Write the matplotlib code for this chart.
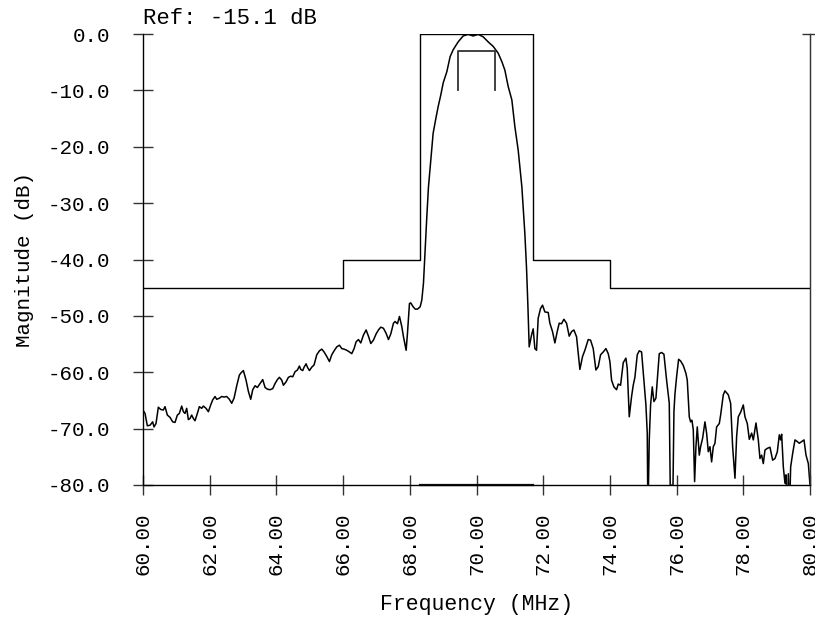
import numpy as np
import matplotlib
matplotlib.use('Agg')
import matplotlib.pyplot as plt

plt.rcParams['font.family'] = ['Liberation Mono', 'DejaVu Sans Mono']

freq = [
    60.00, 60.06, 60.13, 60.21, 60.29, 60.33, 60.39, 60.46, 60.53, 60.61,
    60.66, 60.73, 60.81, 60.89, 60.96, 61.03, 61.09, 61.16, 61.21, 61.26,
    61.31, 61.36, 61.41, 61.46, 61.51, 61.56, 61.63, 61.69, 61.76, 61.81,
    61.89, 61.96, 62.03, 62.09, 62.16, 62.21, 62.29, 62.36, 62.43, 62.51,
    62.59, 62.66, 62.73, 62.81, 62.89, 62.94, 63.01, 63.09, 63.16, 63.23,
    63.29, 63.36, 63.43, 63.51, 63.59, 63.66, 63.73, 63.81, 63.89, 63.96,
    64.03, 64.09, 64.16, 64.21, 64.29, 64.36, 64.43, 64.49, 64.56, 64.63,
    64.69, 64.73, 64.79, 64.83, 64.89, 64.93, 64.99, 65.06, 65.13, 65.21,
    65.29, 65.36, 65.43, 65.51, 65.59, 65.66, 65.73, 65.81, 65.89, 65.96,
    66.03, 66.11, 66.19, 66.26, 66.33, 66.39, 66.46, 66.53, 66.61, 66.69,
    66.76, 66.83, 66.91, 66.99, 67.06, 67.13, 67.21, 67.29, 67.36, 67.43,
    67.51, 67.56, 67.63, 67.69, 67.76, 67.81, 67.86, 67.89, 67.93, 67.99,
    68.03, 68.09, 68.16, 68.23, 68.31, 68.36, 68.41, 68.46, 68.51, 68.56,
    68.63, 68.70, 68.79, 68.85, 68.93, 69.00, 69.11, 69.21, 69.30, 69.45,
    69.60, 69.75, 69.90, 70.05, 70.20, 70.35, 70.50, 70.65, 70.76, 70.85,
    70.95, 71.06, 71.15, 71.25, 71.36, 71.45, 71.50, 71.54, 71.58, 71.65,
    71.70, 71.75, 71.80, 71.85, 71.92, 71.98, 72.05, 72.15, 72.20, 72.28,
    72.35, 72.42, 72.48, 72.55, 72.62, 72.70, 72.78, 72.85, 72.92, 73.00,
    73.10, 73.18, 73.25, 73.35, 73.42, 73.50, 73.58, 73.65, 73.72, 73.80,
    73.88, 73.95, 74.00, 74.05, 74.12, 74.20, 74.25, 74.32, 74.40, 74.48,
    74.52, 74.58, 74.65, 74.70, 74.75, 74.82, 74.88, 74.95, 75.02, 75.08,
    75.12, 75.14, 75.18, 75.22, 75.27, 75.32, 75.38, 75.42, 75.48, 75.55,
    75.62, 75.70, 75.78, 75.82, 75.85, 75.88, 75.92, 75.95, 76.00, 76.06,
    76.12, 76.20, 76.28, 76.32, 76.38, 76.42, 76.46, 76.50, 76.54, 76.58,
    76.62, 76.68, 76.72, 76.78, 76.85, 76.90, 76.95, 77.00, 77.05, 77.10,
    77.15, 77.20, 77.28, 77.32, 77.36, 77.40, 77.45, 77.55, 77.62, 77.68,
    77.75, 77.80, 77.85, 77.92, 78.00, 78.05, 78.12, 78.18, 78.25, 78.30,
    78.38, 78.45, 78.50, 78.55, 78.60, 78.65, 78.72, 78.80, 78.88, 78.95,
    79.02, 79.08, 79.12, 79.15, 79.20, 79.25, 79.28, 79.32, 79.35, 79.38,
    79.42, 79.48, 79.55, 79.62, 79.68, 79.75, 79.82, 79.88, 79.95, 80.00,
]
mag = [
    -66.7, -67.3, -69.5, -69.4, -68.8, -69.7, -69.1, -66.2, -66.6, -66.7,
    -66.1, -67.6, -68.0, -68.8, -68.9, -67.6, -67.3, -66.0, -67.0, -67.3,
    -66.4, -68.4, -68.2, -67.6, -68.2, -68.6, -67.3, -66.1, -66.4, -66.0,
    -66.4, -67.0, -65.8, -64.9, -64.3, -64.8, -64.6, -64.3, -64.4, -64.3,
    -64.8, -65.5, -64.6, -62.4, -60.5, -60.1, -59.7, -61.4, -63.4, -64.8,
    -63.1, -62.4, -62.7, -62.0, -61.3, -62.7, -63.0, -63.1, -62.9, -62.0,
    -61.3, -60.9, -61.4, -62.3, -61.7, -60.9, -60.7, -60.8, -59.9, -59.6,
    -58.9, -59.5, -59.7, -59.1, -58.5, -59.1, -59.7, -59.1, -58.7, -56.9,
    -56.2, -55.9, -56.4, -57.2, -58.1, -56.9, -56.2, -55.5, -55.2, -55.8,
    -55.9, -56.1, -56.4, -56.7, -55.8, -54.6, -54.2, -54.8, -53.4, -52.5,
    -53.6, -54.9, -54.3, -53.2, -52.5, -52.0, -52.2, -53.1, -54.2, -53.2,
    -51.3, -51.0, -51.4, -50.1, -51.9, -53.7, -55.2, -56.1, -53.1, -47.8,
    -47.7, -48.3, -48.8, -48.8, -48.4, -47.2, -44.2, -38.3, -32.4, -27.1,
    -22.4, -17.6, -14.7, -12.9, -10.8, -8.7, -6.7, -4.0, -2.8, -1.4,
    -0.35, -0.06, -0.35, -0.06, -0.5, -1.4, -2.2, -3.4, -4.9, -6.4,
    -9.3, -11.7, -16.4, -20.6, -27.1, -35.4, -41.5, -48.0, -55.5, -53.4,
    -52.3, -55.8, -56.1, -50.4, -48.7, -48.1, -49.3, -49.4, -51.3, -52.8,
    -54.8, -52.8, -51.3, -51.4, -50.6, -51.3, -53.6, -52.8, -52.5, -53.7,
    -59.5, -57.2, -56.1, -54.2, -54.3, -55.8, -59.6, -59.0, -56.9, -56.4,
    -55.8, -56.7, -58.1, -61.4, -62.6, -63.1, -62.1, -62.3, -58.3, -57.5,
    -59.3, -67.9, -64.3, -62.3, -60.9, -56.9, -56.2, -56.4, -61.4, -65.8,
    -70.8, -86.0, -72.0, -65.8, -62.6, -65.2, -64.6, -61.4, -56.7, -56.5,
    -56.8, -61.4, -65.5, -86.0, -80.0, -86.0, -67.0, -63.9, -60.8, -57.7,
    -58.0, -58.8, -60.2, -61.4, -67.9, -68.8, -68.5, -70.2, -79.4, -73.2,
    -69.7, -74.7, -73.2, -71.7, -68.8, -70.8, -74.1, -73.2, -75.9, -73.2,
    -72.6, -69.7, -69.1, -67.6, -65.8, -64.0, -63.3, -64.0, -65.5, -73.2,
    -78.8, -71.4, -67.9, -67.1, -65.8, -67.9, -69.1, -71.9, -70.8, -72.0,
    -69.0, -72.0, -75.3, -74.7, -76.2, -73.8, -73.5, -73.3, -75.6, -75.3,
    -74.1, -71.1, -72.0, -71.0, -76.8, -79.7, -78.2, -86.0, -78.0, -86.0,
    -76.8, -74.4, -72.0, -72.3, -72.6, -72.3, -72.0, -74.7, -76.2, -80.0,
]

# Маска (ступенчатая граница)
mask_f = [60, 66, 66, 68.3, 68.3, 71.7, 71.7, 74, 74, 80]
mask_db = [-45, -45, -40, -40, 0, 0, -40, -40, -45, -45]
# Скобка по уровню -3 дБ
bracket_f = [69.45, 69.45, 70.55, 70.55]
bracket_db = [-10, -3, -3, -10]

fig = plt.figure(figsize=(8.15, 6.21), dpi=100)
ax = fig.add_axes([143 / 815, 1 - 485 / 621, 667 / 815, 451 / 621])

ax.plot(freq, mag, color='black', linewidth=1.1)
ax.plot(mask_f, mask_db, color='black', linewidth=1.0)
ax.plot(bracket_f, bracket_db, color='#333333', linewidth=1.3)
ax.plot([68.3, 71.7], [-80, -80], color='black', linewidth=1.6, clip_on=False)

ax.set_xlim(60, 80)
ax.set_ylim(-80, 0)
ax.set_xticks(np.arange(60, 80.1, 2))
ax.set_xticklabels(['%.2f' % v for v in np.arange(60, 80.1, 2)], rotation=90)
ax.set_yticks(np.arange(-80, 0.1, 10))
ax.set_yticklabels(['%.1f' % v for v in np.arange(-80, 0.1, 10)])

for side in ['left', 'bottom', 'right']:
    ax.spines[side].set_color('#444444')
    ax.spines[side].set_linewidth(1.0)
ax.spines['top'].set_visible(False)

ax.tick_params(axis='both', direction='inout', length=15, width=1.0,
               color='#333333', labelsize=15)
ax.tick_params(axis='y', pad=16)
ax.tick_params(axis='x', pad=12)

# правая ось: одна засечка сверху
ax2 = ax.twinx()
ax2.set_ylim(-80, 0)
ax2.set_yticks([0])
ax2.set_yticklabels([])
ax2.tick_params(axis='y', direction='inout', length=12, width=1.0, color='#333333')
ax2.spines['top'].set_visible(False)
ax2.spines['right'].set_color('#333333')

ax.set_xlabel('Frequency (MHz)', fontsize=15.5, labelpad=14)
ax.set_ylabel('Magnitude (dB)', fontsize=15, labelpad=10)
ax.text(0.0, 1.012, 'Ref: -15.1 dB', transform=ax.transAxes, ha='left',
        va='bottom', fontsize=16)

fig.savefig('out.png', dpi=100)
